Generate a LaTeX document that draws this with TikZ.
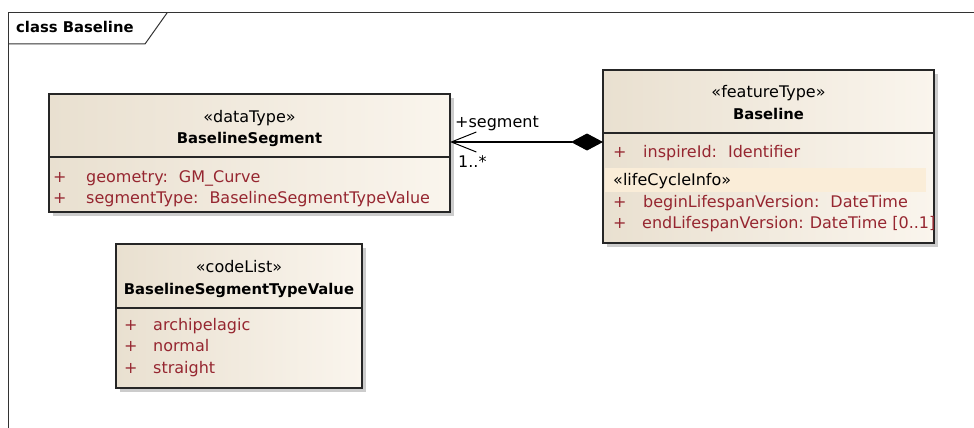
\documentclass[tikz,border=0pt]{standalone}
\usepackage{fontspec}
\setmainfont{DejaVu Sans}
\usepackage{tikz}
\usetikzlibrary{arrows.meta}
\usetikzlibrary{shadows}

\definecolor{umlred}{RGB}{150,38,48}
\definecolor{boxleft}{RGB}{233,224,208}
\definecolor{boxright}{RGB}{250,245,237}
\definecolor{lifeband}{RGB}{250,237,216}

\newcommand{\umltxt}{\fontsize{16}{18}\selectfont}
\newcommand{\umlbold}{\fontsize{14.8}{18}\selectfont\bfseries}
\newcommand{\cgap}{\hspace{11pt}}

\begin{document}
\begin{tikzpicture}[x = 1pt, y = -1pt,
  umlbox/.style = {draw = black!85, line width = 1.2pt, left color = boxleft, right color = boxright, anchor = north west, inner sep = 0, outer sep = 0, drop shadow = {shadow xshift = 4pt, shadow yshift = -4pt, fill = black!40, opacity = .5}},
  divider/.style = {draw = black!85, line width = 1.2pt},
  stereo/.style = {font = \umltxt, anchor = base, inner sep = 0},
  cname/.style = {font = \umlbold, anchor = base, inner sep = 0},
  attr/.style = {font = \umltxt, text = umlred, anchor = base west, inner sep = 0},
  role/.style = {font = \umltxt, anchor = base west, inner sep = 0}]

 \useasboundingbox (0, 0) rectangle (974, 428);
 % diagram frame
 \draw [line width = 1pt, black!80] (974, 13) -- (8, 13) -- (8, 428);
 \draw [line width = 1pt, black!80] (8, 44) -- (145, 44) -- (167, 13);
 \node [font = \umlbold, anchor = base west, inner sep = 0] (title) at (16, 33) {class Baseline};

 % BaselineSegment
 \node [umlbox, minimum width = 401, minimum height = 118] (segment) at (49, 94) {};
 \draw [divider] ([yshift = -63pt]segment.north west) -- ([yshift = -63pt]segment.north east);
 \node [stereo] (segster) at (249.5, 122) {«dataType»};
 \node [cname] (segname) at (249.5, 143) {BaselineSegment};
 \node [attr] (segp1) at (53, 182) {+};
 \node [attr] (geom) at (86, 182) {geometry:\cgap GM\_Curve};
 \node [attr] (segp2) at (53, 203) {+};
 \node [attr] (segtype) at (86, 203) {segmentType:\cgap BaselineSegmentTypeValue};

 % Baseline
 \node [umlbox, minimum width = 331, minimum height = 173] (feature) at (603, 70) {};
 \draw [divider] ([yshift = -63pt]feature.north west) -- ([yshift = -63pt]feature.north east);
 \fill [lifeband] ([shift = {(2pt, -98pt)}]feature.north west) rectangle ([shift = {(-8pt, -122pt)}]feature.north east);
 \node [stereo] (featster) at (768.5, 97) {«featureType»};
 \node [cname] (featname) at (768.5, 119) {Baseline};
 \node [attr] (featp1) at (613, 157) {+};
 \node [attr] (inspire) at (643, 157) {inspireId:\cgap Identifier};
 \node [role] (life) at (613, 185) {«lifeCycleInfo»};
 \node [attr] (featp2) at (613, 207) {+};
 \node [attr] (begin) at (643, 207) {beginLifespanVersion:\cgap DateTime};
 \node [attr] (featp3) at (613, 228) {+};
 \begin{scope}
  \clip (feature.north west) rectangle ([xshift = -0.5pt]feature.south east);
  \node [attr] (end) at (642, 228) {endLifespanVersion:\hspace{6pt}DateTime [0..1]};
 \end{scope}

 % BaselineSegmentTypeValue
 \node [umlbox, minimum width = 246, minimum height = 144] (codes) at (116, 244) {};
 \draw [divider] ([yshift = -64pt]codes.north west) -- ([yshift = -64pt]codes.north east);
 \node [stereo] (codester) at (239, 272) {«codeList»};
 \node [cname] (codename) at (239, 294) {BaselineSegmentTypeValue};
 \foreach \val [count = \i] in {archipelagic, normal, straight} {
  \node [attr] (codep\i) at (124, 330 + 21.5*\i - 21.5) {+};
  \node [attr] (code\i) at (153, 330 + 21.5*\i - 21.5) {\val};
 }

 % composition
 \draw [line width = 1.2pt, {Diamond[length = 32pt, width = 17pt]}-{Straight Barb[length = 25pt, width = 20pt, line width = 1pt]}] (feature.west |- 0, 142) -- (segment.east |- 0, 142);
 \node [role] (rolename) at (455, 127) {+segment};
 \node [role] (mult) at (458, 167) {1..*};
\end{tikzpicture}
\end{document}
